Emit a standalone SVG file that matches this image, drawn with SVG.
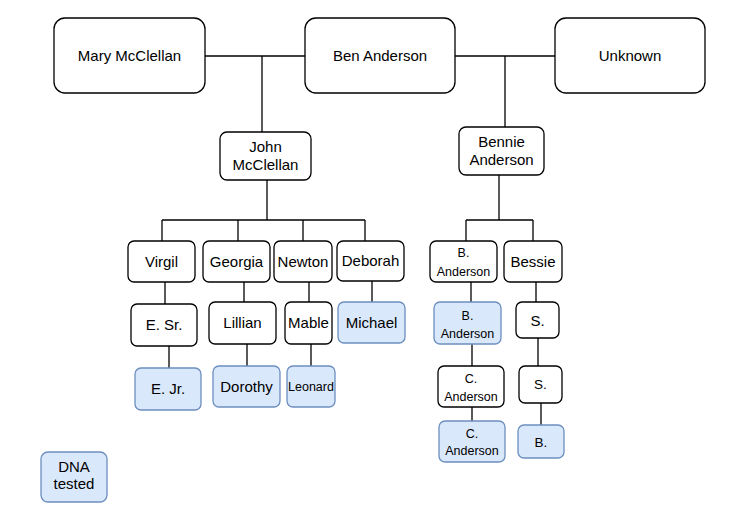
<svg xmlns="http://www.w3.org/2000/svg" width="729" height="525" viewBox="0 0 729 525">
<style>
.n{fill:#fff;stroke:#000;stroke-width:1.3}
.d{fill:#dae8fc;stroke:#6c8ebf;stroke-width:1.3}
text{font-family:"Liberation Sans",Arial,sans-serif;font-size:15px;fill:#000;text-anchor:middle}
.s{font-size:12.5px}
.m{font-size:13.5px}
.c line{stroke:#000;stroke-width:1.3}
</style>
<rect width="729" height="525" fill="#fff"/>
<g class="c" id="connectors">
<line x1="205" y1="56" x2="305" y2="56"/>
<line x1="455" y1="56" x2="555" y2="56"/>
<line x1="262" y1="56" x2="262" y2="132"/>
<line x1="505" y1="56" x2="505" y2="127"/>
<line x1="267" y1="180" x2="267" y2="220"/>
<line x1="162" y1="220" x2="365" y2="220"/>
<line x1="162" y1="220" x2="162" y2="241"/>
<line x1="238" y1="220" x2="238" y2="241"/>
<line x1="303" y1="220" x2="303" y2="241"/>
<line x1="365" y1="220" x2="365" y2="241"/>
<line x1="165" y1="282" x2="165" y2="304"/>
<line x1="169" y1="346" x2="169" y2="368"/>
<line x1="244" y1="282" x2="244" y2="302"/>
<line x1="247" y1="344" x2="247" y2="366"/>
<line x1="309" y1="282" x2="309" y2="302"/>
<line x1="311" y1="344" x2="311" y2="366"/>
<line x1="372" y1="281" x2="372" y2="302"/>
<line x1="499" y1="175" x2="499" y2="220"/>
<line x1="466" y1="220" x2="533" y2="220"/>
<line x1="466" y1="220" x2="466" y2="241"/>
<line x1="533" y1="220" x2="533" y2="241"/>
<line x1="471" y1="282" x2="471" y2="302"/>
<line x1="472" y1="344" x2="472" y2="366"/>
<line x1="472" y1="407" x2="472" y2="421"/>
<line x1="536" y1="282" x2="536" y2="302"/>
<line x1="538" y1="338" x2="538" y2="366"/>
<line x1="541" y1="403" x2="541" y2="425"/>
</g>
<g id="mary"><rect class="n" x="54" y="18" width="151" height="75" rx="11"/><text x="129.5" y="61">Mary McClellan</text></g>
<g id="ben"><rect class="n" x="305" y="18" width="150" height="75" rx="11"/><text x="380" y="61">Ben Anderson</text></g>
<g id="unknown"><rect class="n" x="555" y="18" width="150" height="75" rx="11"/><text x="630" y="61">Unknown</text></g>
<g id="john"><rect class="n" x="220" y="132" width="91" height="48" rx="7"/><text x="265.5" y="152">John</text><text x="265.5" y="170">McClellan</text></g>
<g id="bennie"><rect class="n" x="459" y="127" width="85" height="48" rx="7"/><text x="501.5" y="147">Bennie</text><text x="501.5" y="165">Anderson</text></g>
<g id="virgil"><rect class="n" x="128" y="241" width="67" height="41" rx="6"/><text x="161.5" y="267">Virgil</text></g>
<g id="georgia"><rect class="n" x="203" y="241" width="67" height="41" rx="6"/><text x="236.5" y="267">Georgia</text></g>
<g id="newton"><rect class="n" x="274" y="241" width="58" height="41" rx="6"/><text x="303" y="267">Newton</text></g>
<g id="deborah"><rect class="n" x="337" y="241" width="67" height="40" rx="6"/><text x="370.5" y="266">Deborah</text></g>
<g id="esr"><rect class="n" x="131" y="304" width="66" height="42" rx="6"/><text x="164" y="330">E. Sr.</text></g>
<g id="ejr"><rect class="d" x="135" y="368" width="66" height="42" rx="6"/><text x="168" y="394">E. Jr.</text></g>
<g id="lillian"><rect class="n" x="209" y="302" width="67" height="42" rx="6"/><text x="242.5" y="328">Lillian</text></g>
<g id="dorothy"><rect class="d" x="213" y="366" width="67" height="41" rx="6"/><text x="246.5" y="392">Dorothy</text></g>
<g id="mable"><rect class="n" x="285" y="302" width="47" height="42" rx="6"/><text x="308.5" y="328">Mable</text></g>
<g id="leonard"><rect class="d" x="287" y="366" width="48" height="41" rx="6"/><text class="s" x="311" y="391">Leonard</text></g>
<g id="michael"><rect class="d" x="338" y="302" width="67" height="41" rx="6"/><text x="371.5" y="328">Michael</text></g>
<g id="banderson1"><rect class="n" x="430" y="241" width="67" height="41" rx="6"/><text class="s" x="463.5" y="257">B.</text><text class="s" x="463.5" y="276">Anderson</text></g>
<g id="bessie"><rect class="n" x="504" y="241" width="58" height="41" rx="6"/><text x="533" y="267">Bessie</text></g>
<g id="banderson2"><rect class="d" x="434" y="302" width="67" height="42" rx="6"/><text class="s" x="467.5" y="320">B.</text><text class="s" x="467.5" y="338">Anderson</text></g>
<g id="canderson1"><rect class="n" x="438" y="366" width="66" height="41" rx="6"/><text class="s" x="471" y="383">C.</text><text class="s" x="471" y="401">Anderson</text></g>
<g id="canderson2"><rect class="d" x="439" y="421" width="66" height="41" rx="6"/><text class="s" x="472" y="438">C.</text><text class="s" x="472" y="455">Anderson</text></g>
<g id="s1"><rect class="n" x="516" y="302" width="43" height="36" rx="6"/><text x="537.5" y="325.5">S.</text></g>
<g id="s2"><rect class="n" x="519" y="366" width="43" height="37" rx="6"/><text class="m" x="540.5" y="389">S.</text></g>
<g id="b"><rect class="d" x="518" y="425" width="46" height="33" rx="6"/><text class="m" x="541" y="446.5">B.</text></g>
<g id="legend"><rect class="d" x="41" y="452" width="66" height="50" rx="7"/><text x="74" y="472">DNA</text><text x="74" y="489">tested</text></g>
</svg>
